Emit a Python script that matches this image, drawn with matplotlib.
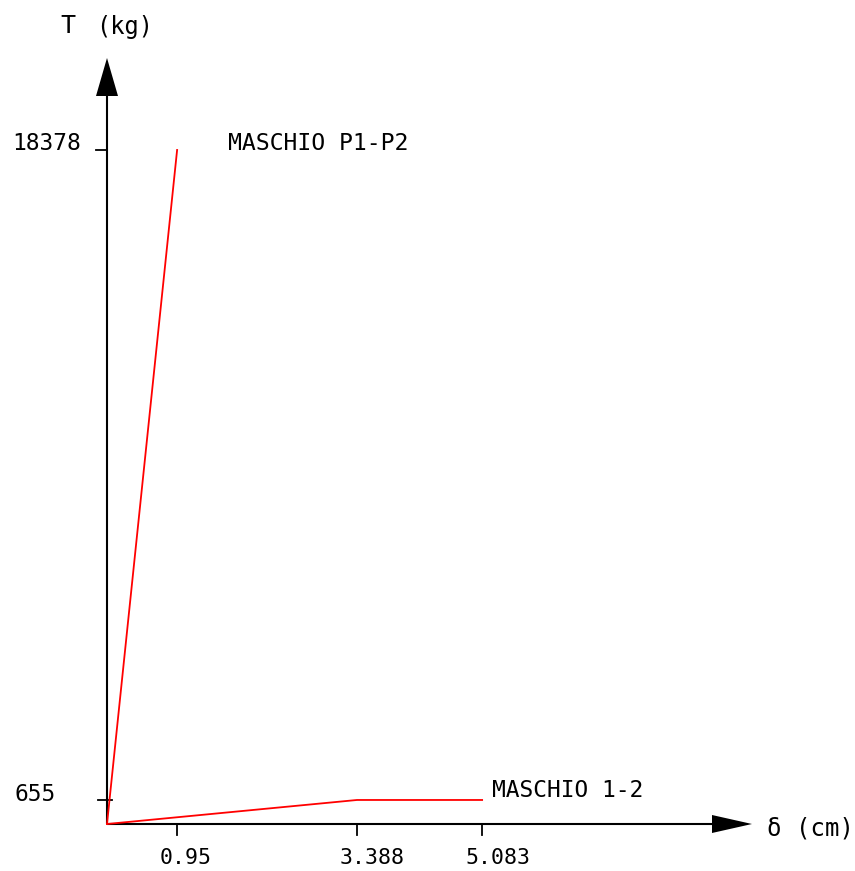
import matplotlib
matplotlib.use("Agg")
import matplotlib.pyplot as plt
from matplotlib.patches import Polygon

# ---- data ----
p1p2_delta = [0.0, 0.95]
p1p2_T = [0, 18378]
m12_delta = [0.0, 3.388, 5.083]
m12_T = [0, 655, 655]
x_ticks = [0.95, 3.388, 5.083]
x_tick_labels = ["0.95", "3.388", "5.083"]
y_ticks = [655, 18378]
y_tick_labels = ["655", "18378"]
series_labels = ["MASCHIO P1-P2", "MASCHIO 1-2"]

W, H = 855, 871
FONT = "DejaVu Sans Mono"

fig = plt.figure(figsize=(W / 100, H / 100), dpi=100)
ax = fig.add_axes([0, 0, 1, 1])
ax.axis("off")

# pixel mapping (origin at pixel (107, 824) from top-left)
OX, OY = 107, 824
SX = 73.8          # px per cm
SY = 0.036676      # px per kg
ax.set_xlim(-OX / SX, (W - OX) / SX)
ax.set_ylim(-(H - OY) / SY, OY / SY)

def dx(px):  # pixel offset -> data x
    return px / SX

def dy(px):  # pixel offset -> data y
    return px / SY

# axes lines
ax.plot([0, dx(715 - OX)], [0, 0], color="black", lw=1.5, solid_capstyle="butt")
ax.plot([0, 0], [0, dy(OY - 94)], color="black", lw=1.5, solid_capstyle="butt")
# arrows
ax.add_patch(Polygon([[dx(712 - OX), dy(9)], [dx(752 - OX), 0], [dx(712 - OX), dy(-9)]],
                     closed=True, color="black", lw=0))
ax.add_patch(Polygon([[dx(-11), dy(OY - 96)], [0, dy(OY - 58)], [dx(11), dy(OY - 96)]],
                     closed=True, color="black", lw=0))

# ticks
for v in x_ticks:
    ax.plot([v, v], [0, dy(-11)], color="black", lw=1.3)
ax.plot([dx(-9), dx(5)], [y_ticks[0], y_ticks[0]], color="black", lw=1.3)
ax.plot([dx(-11), 0], [y_ticks[1], y_ticks[1]], color="black", lw=1.3)

# data lines
ax.plot(p1p2_delta, p1p2_T, color="#ff0000", lw=1.3)
ax.plot(m12_delta, m12_T, color="#ff0000", lw=1.3)

def ftext(px, py, s, ha="left", va="center", fs=16):
    fig.text(px / W, 1 - py / H, s, ha=ha, va=va, fontsize=fs, family=FONT, color="black")

# tick labels
for v, lab in zip(x_ticks, x_tick_labels):
    ftext(OX + v * SX - 17, 858, lab, fs=15.5)
ftext(15, 794, y_tick_labels[0], fs=16.5)
ftext(12, 144, y_tick_labels[1], fs=16.5)

# series labels
ftext(228, 144, series_labels[0], fs=16.7)
ftext(492, 790, series_labels[1], fs=16.5)

# axis labels
ftext(60, 26, "T", fs=18)
ftext(96, 27, "(kg)", fs=17)
ftext(767, 828, "δ (cm)", fs=17.3)

fig.savefig("out.png", dpi=100)
